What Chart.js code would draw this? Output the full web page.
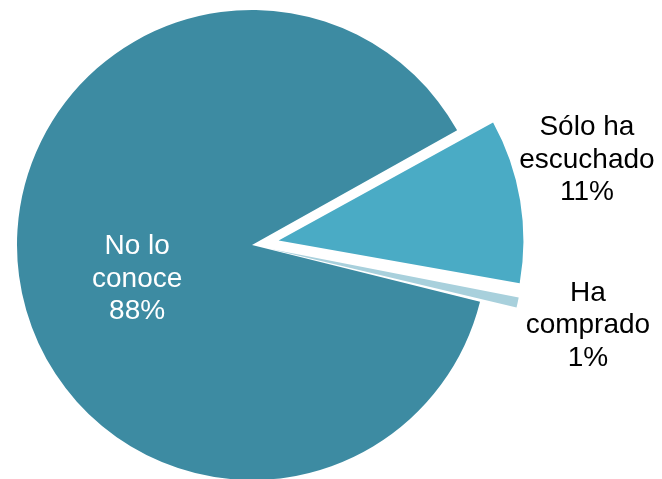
<!DOCTYPE html>
<html>
<head>
<meta charset="utf-8">
<title>Pie</title>
<script src="https://cdn.jsdelivr.net/npm/chart.js@4"></script>
<style>
  html, body { margin: 0; padding: 0; background: #ffffff; }
  canvas { display: block; }
</style>
</head>
<body>
<canvas id="pieChart" width="662" height="479"></canvas>
<script>
// Data
var categories = [['No lo', 'conoce'], ['Sólo ha', 'escuchado'], ['Ha', 'comprado']];
var values = [88, 11, 1];
var percentLabels = ['88%', '11%', '1%'];

var sliceColors = ['#3D8BA2', '#4AABC5', '#A8D0DC'];
var textColors = ['#ffffff', '#000000', '#000000'];

// label placement from pie centre: [distance as part of radius, angle shift in degrees]
var labelPlace = [[0.51, -9], [1.47, -4.8], [1.47, 1.3]];

// draws the data labels next to / inside each slice
var sliceLabels = {
    id: 'sliceLabels',
    afterDatasetsDraw: function(chart) {
        var ctx = chart.ctx;
        var meta = chart.getDatasetMeta(0);
        ctx.save();
        ctx.font = '28px "Liberation Sans", Arial, sans-serif';
        ctx.textAlign = 'center';
        ctx.textBaseline = 'middle';
        meta.data.forEach(function(arc, i) {
            var p = arc.getProps(['x', 'y', 'startAngle', 'endAngle', 'outerRadius']);
            var mid = (p.startAngle + p.endAngle) / 2;
            var a = mid + labelPlace[i][1] * Math.PI / 180;
            var r = p.outerRadius * labelPlace[i][0];
            var cx = p.x + Math.cos(a) * r;
            var cy = p.y + Math.sin(a) * r;
            var lines = categories[i].concat([percentLabels[i]]);
            var lh = 32.5;
            ctx.fillStyle = textColors[i];
            lines.forEach(function(t, j) {
                ctx.fillText(t, cx, cy + (j - (lines.length - 1) / 2) * lh);
            });
        });
        ctx.restore();
    }
};

var ctx = document.getElementById('pieChart').getContext('2d');
var pieChart = new Chart(ctx, {
    type: 'pie',
    data: {
        labels: categories.map(function(c) { return c.join(' '); }),
        datasets: [{
            data: values,
            backgroundColor: sliceColors,
            borderWidth: 0,
            // chart.js scales the offset down internally, these give ~37px
            offset: [0, 108, 76],
            clip: false
        }]
    },
    options: {
        responsive: false,
        animation: false,
        rotation: 104,
        radius: 235,
        layout: {
            padding: { left: 0, right: 158, top: 11, bottom: 0 }
        },
        plugins: {
            legend: { display: false },
            tooltip: { enabled: false }
        }
    },
    plugins: [sliceLabels]
});
</script>
</body>
</html>
